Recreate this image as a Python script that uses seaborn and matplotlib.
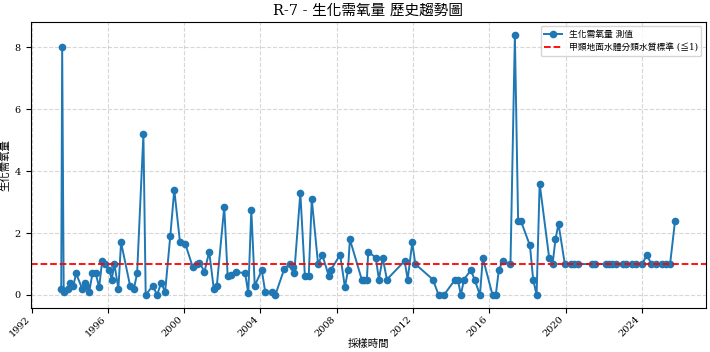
import numpy as np
import pandas as pd
import matplotlib
matplotlib.use("Agg")
import matplotlib.pyplot as plt
import matplotlib.dates as mdates
import seaborn as sns

# sample times (decimal year) and BOD values
sample_years = [
    1993.55, 1993.60, 1993.68, 1993.93, 1994.02, 1994.19, 1994.33, 1994.65, 1994.79, 1994.86,
    1995.02, 1995.19, 1995.36, 1995.54, 1995.70, 1995.84, 1996.08, 1996.20, 1996.34, 1996.55,
    1996.69, 1997.16, 1997.36, 1997.53, 1997.86, 1997.98, 1998.35, 1998.58, 1998.79, 1999.00,
    1999.27, 1999.48, 1999.78, 2000.06, 2000.45, 2000.66, 2000.80, 2001.06, 2001.31, 2001.55,
    2001.71, 2002.10, 2002.28, 2002.47, 2002.72, 2003.20, 2003.36, 2003.52, 2003.70, 2004.07,
    2004.25, 2004.60, 2004.78, 2005.25, 2005.53, 2005.69, 2005.77, 2006.09, 2006.33, 2006.53,
    2006.69, 2007.02, 2007.24, 2007.59, 2007.68, 2008.18, 2008.43, 2008.59, 2008.69, 2009.31,
    2009.44, 2009.58, 2009.65, 2010.05, 2010.21, 2010.41, 2010.63, 2011.56, 2011.72, 2011.96,
    2012.12, 2013.04, 2013.34, 2013.62, 2014.21, 2014.35, 2014.51, 2014.67, 2015.03, 2015.23,
    2015.51, 2015.66, 2016.17, 2016.34, 2016.50, 2016.70, 2017.11, 2017.34, 2017.51, 2017.65,
    2018.13, 2018.30, 2018.48, 2018.64, 2019.14, 2019.32, 2019.47, 2019.63, 2019.96, 2020.29,
    2020.42, 2020.63, 2021.41, 2021.55, 2022.11, 2022.28, 2022.43, 2022.63, 2023.02, 2023.19,
    2023.49, 2023.68, 2024.03, 2024.26, 2024.50, 2024.73, 2025.08, 2025.25, 2025.48, 2025.74,
]
bod_values = [
    0.2, 8.0, 0.1, 0.2, 0.4, 0.3, 0.7, 0.2, 0.4, 0.3,
    0.1, 0.7, 0.7, 0.25, 1.1, 1.0, 0.8, 0.5, 1.0, 0.2,
    1.7, 0.3, 0.2, 0.7, 5.2, 0.0, 0.3, 0.0, 0.4, 0.1,
    1.9, 3.4, 1.7, 1.65, 0.9, 1.0, 1.05, 0.75, 1.4, 0.2,
    0.3, 2.85, 0.6, 0.65, 0.75, 0.7, 0.05, 2.75, 0.3, 0.8,
    0.1, 0.1, 0.0, 0.85, 1.0, 0.9, 0.7, 3.3, 0.6, 0.6,
    3.1, 1.0, 1.3, 0.6, 0.8, 1.3, 0.25, 0.8, 1.8, 0.5,
    0.5, 0.5, 1.4, 1.2, 0.5, 1.2, 0.5, 1.1, 0.5, 1.7,
    1.0, 0.5, 0.0, 0.0, 0.5, 0.5, 0.0, 0.5, 0.8, 0.5,
    0.0, 1.2, 0.0, 0.0, 0.8, 1.1, 1.0, 8.4, 2.4, 2.4,
    1.6, 0.5, 0.0, 3.6, 1.2, 1.0, 1.8, 2.3, 1.0, 1.0,
    1.0, 1.0, 1.0, 1.0, 1.0, 1.0, 1.0, 1.0, 1.0, 1.0,
    1.0, 1.0, 1.0, 1.3, 1.0, 1.0, 1.0, 1.0, 1.0, 2.4,
]
standard_limit = 1.0

# decimal year -> timestamp
dates = [pd.Timestamp(int(y), 1, 1) + pd.Timedelta(days=(y % 1) * 365.25) for y in sample_years]
df = pd.DataFrame({"date": dates, "value": bod_values})

plt.rcParams['font.family'] = ['DejaVu Serif', 'Noto Sans CJK TC']
plt.rcParams['axes.unicode_minus'] = False

fig, ax = plt.subplots(figsize=(7.1, 3.52), dpi=100)
sns.lineplot(data=df, x="date", y="value", marker="o", markersize=5.5, markeredgewidth=0,
             color="#1f77b4", linewidth=1.4, label="生化需氧量 測值", ax=ax)
ax.axhline(standard_limit, color="red", linestyle="--", linewidth=1.3,
           label="甲類地面水體分類水質標準 (≦1)")

ax.set_title("R-7 - 生化需氧量 歷史趨勢圖", fontsize=10.5, pad=5)
ax.set_xlabel("採樣時間", fontsize=7.5, labelpad=0)
ax.set_ylabel("生化需氧量", fontsize=7.5, labelpad=3)
ax.xaxis.set_major_locator(mdates.YearLocator(4))
ax.xaxis.set_major_formatter(mdates.DateFormatter("%Y"))
plt.setp(ax.get_xticklabels(), rotation=45, ha="right")
ax.tick_params(labelsize=7)
ax.tick_params(axis="x", pad=1.5)
ax.grid(True, linestyle="--", alpha=0.5)
ax.legend(loc="upper right", fontsize=6.3)

fig.subplots_adjust(left=0.043, right=0.994, top=0.9375, bottom=0.125)
plt.savefig("out.png", dpi=100)
